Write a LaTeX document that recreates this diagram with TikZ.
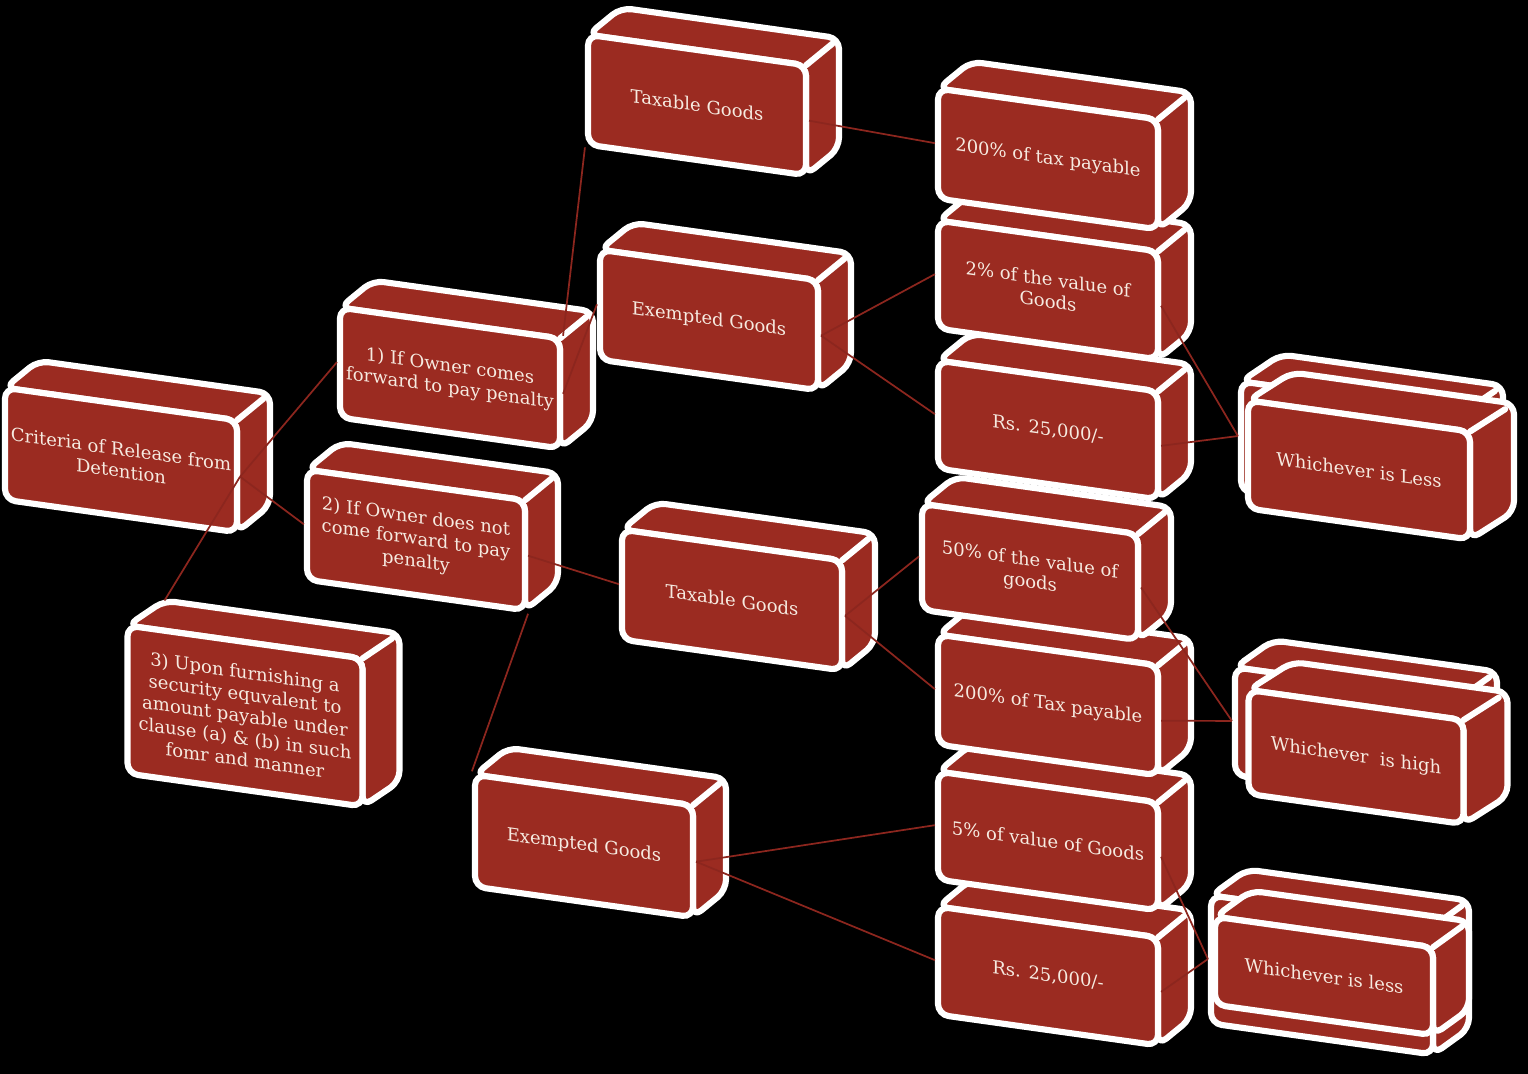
\documentclass[tikz,border=0pt]{standalone}
\usepackage{fontspec}
\setmainfont{DejaVu Serif}
\usetikzlibrary{calc}
\definecolor{brickred}{RGB}{155,43,33}
\definecolor{linkred}{RGB}{140,38,30}
\definecolor{cream}{RGB}{246,234,224}

% brick: [depth]{name}{centre}{width}{height}{text}, sizes in px
\newcommand{\brick}[6][33,-27]{%
  \path (#3) ++({-#4/2},{-#5/2-0.07*#4}) coordinate (#2-nw)
        (#3) ++({#4/2},{-#5/2+0.07*#4}) coordinate (#2-ne)
        (#3) ++({#4/2},{#5/2+0.07*#4}) coordinate (#2-se);
  \draw[brickside] (#2-nw) -- ($(#2-nw)+(#1)$) coordinate (#2-back)
    -- ($(#2-ne)+(#1)$) -- ($(#2-se)+(#1)$) -- (#2-se) -- (#2-ne) -- cycle;
  \draw[brickedge] (#2-ne) -- ($(#2-ne)+0.8*(#1)$);
  \node[brick, minimum width={#4*0.75pt}, minimum height={#5*0.75pt}] (#2) at (#3) {#6};
}

\begin{document}
\begin{tikzpicture}[
    x=0.75pt, y=-0.75pt,
    brick/.style={draw=white, line width=4.6pt, fill=brickred, rounded corners=8pt,
      yslant=-0.14, text=cream, align=center, inner sep=0pt,
      font=\fontsize{13.5}{16.5}\selectfont},
    brickside/.style={draw=white, line width=4.6pt, fill=brickred, rounded corners=8pt, line join=round},
    brickedge/.style={draw=white, line width=4.6pt, line cap=round},
    link/.style={draw=linkred, line width=1.3pt}
  ]
  \fill[black] (0,0) rectangle (1528,1074);

  % Bricks, lowest first
  \brick{rs2}{1048,976}{220}{108}{Rs. 25,000/-}
  \brick[36,-26]{less2b}{1322,975}{222}{128}{}
  \brick[36,-26]{less2}{1324,976}{218}{88}{Whichever is less}
  \brick{exm2}{584,846}{218}{112}{Exempted Goods}
  \brick{val5}{1048,841}{220}{108}{5\% of value of Goods}
  \brick[37,-25]{secure}{245,716}{235}{148}{3) Upon furnishing a\\security equvalent to\\amount payable under\\clause (a) \& (b) in such\\fomr and manner}
  \brick{pay2}{1048,705}{220}{110}{200\% of Tax payable}
  \brick[38,-27]{highb}{1347,737}{224}{108}{}
  \brick[44,-28]{high}{1356,757}{215}{104}{Whichever\ \ is high}
  \brick{tax2}{732,600}{220}{110}{Taxable Goods}
  \brick{val50}{1030,572}{216}{106}{50\% of the value of\\goods}
  \brick{own2}{416,540}{218}{110}{2) If Owner does not\\come forward to pay\\penalty}
  \brick{crit}{121,460}{232}{112}{Criteria of Release from\\Detention}
  \brick[40,-27]{less1b}{1352,452}{222}{110}{}
  \brick[44,-28]{less1}{1359,470}{222}{108}{Whichever is Less}
  \brick{rs1}{1048,430}{220}{108}{Rs. 25,000/-}
  \brick{own1}{450,378}{220}{110}{1) If Owner comes\\forward to pay penalty}
  \brick{val2}{1048,290}{220}{108}{2\% of the value of\\Goods}
  \brick{exm1}{709,320}{218}{110}{Exempted Goods}
  \brick{pay1}{1048,159}{220}{110}{200\% of tax payable}
  \brick{tax1}{697,105}{218}{110}{Taxable Goods}

  % Links
  \draw[link] (crit.east) -- (own1.west);
  \draw[link] (crit.east) -- (own2.west);
  \draw[link] (crit.east) -- (secure-back);
  \draw[link] (own1.north east) -- (tax1.south west);
  \draw[link] (own1.east) -- (exm1.west);
  \draw[link] (own2.east) -- (tax2.west);
  \draw[link] (own2.south east) -- (exm2.north west);
  \draw[link] (tax1.east) -- (pay1.west);
  \draw[link] (exm1.east) -- (val2.west);
  \draw[link] (exm1.east) -- (rs1.west);
  \draw[link] (val2.east) -- (less1b.west);
  \draw[link] (rs1.east) -- (less1b.west);
  \draw[link] (tax2.east) -- (val50.west);
  \draw[link] (tax2.east) -- (pay2.west);
  \draw[link] (val50.east) -- (highb.west);
  \draw[link] (pay2.east) -- (highb.west);
  \draw[link] (exm2.east) -- (val5.west);
  \draw[link] (exm2.east) -- (rs2.west);
  \draw[link] (val5.east) -- (less2b.west);
  \draw[link] (rs2.east) -- (less2b.west);
\end{tikzpicture}
\end{document}
